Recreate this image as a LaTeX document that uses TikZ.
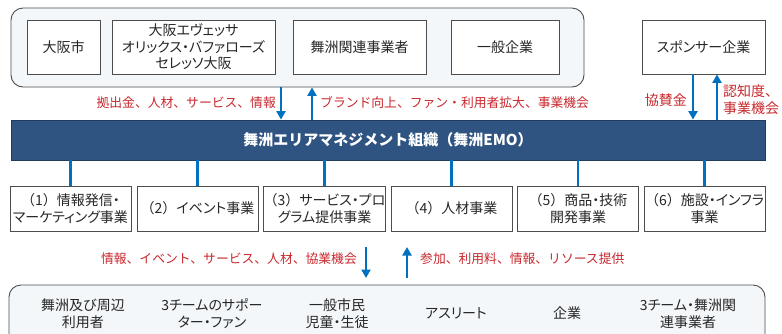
\documentclass[tikz,border=0pt]{standalone}
\usepackage{fontspec}
\setmainfont{Noto Sans CJK JP}[RawFeature=+palt]
\newfontfamily\fwfont{Noto Sans CJK JP}
\usetikzlibrary{arrows.meta}
\definecolor{flowblue}{HTML}{0070C0}
\definecolor{labelred}{HTML}{C8282D}
\definecolor{barblue}{HTML}{2F5482}
\definecolor{panelfill}{HTML}{F4F7FA}
\definecolor{boxline}{HTML}{4D4D4D}
\definecolor{txt}{HTML}{262626}
\newcommand{\biznum}[1]{{\fwfont （#1）}}
\tikzset{
  panel/.style={draw=boxline, line width=0.9pt, fill=panelfill, rounded corners=12pt, inner sep=0pt},
  entity/.style={draw=boxline, line width=0.8pt, fill=white, inner sep=0pt, align=center, text=txt,
    font=\fontsize{14}{16.5}\selectfont},
  bizbox/.style={entity, minimum width=121pt, minimum height=45pt, font=\fontsize{14}{17}\selectfont},
  flow/.style={draw=flowblue, line width=2.8pt, -{Triangle[width=9pt,length=8.5pt]}},
  link/.style={draw=flowblue, line width=2.8pt},
  redlabel/.style={text=labelred, inner sep=0pt, font=\fwfont\fontsize{12.8}{15}\selectfont},
  sponsorlabel/.style={text=labelred, inner sep=0pt, align=left, font=\fwfont\fontsize{14}{17}\selectfont},
  usertext/.style={text=txt, inner sep=0pt, align=center, font=\fontsize{14}{17}\selectfont}
}
\begin{document}
\begin{tikzpicture}[x=1pt,y=-1pt]
\useasboundingbox (0,0) rectangle (782,333);
\clip (0,0) rectangle (782,333);
\fill[white] (0,0) rectangle (782,333);

% top panel
\node[panel, minimum width=573pt, minimum height=79pt] (topc) at (297.5,47.5) {};
\node[entity, minimum width=73pt, minimum height=54pt] (osaka) at (63.5,47) {大阪市};
\node[entity, minimum width=163pt, minimum height=54pt] (teams) at (193.5,47) {大阪エヴェッサ\\オリックス・バファローズ\\セレッソ大阪};
\node[entity, minimum width=133pt, minimum height=54pt] (maishu) at (359.5,47) {舞洲関連事業者};
\node[entity, minimum width=108pt, minimum height=54pt] (ippan) at (505,47) {一般企業};
\node[entity, minimum width=123pt, minimum height=54pt] (sponsor) at (703.5,47) {スポンサー企業};

% bar
\node[draw=barblue!70!black, line width=0.8pt, fill=barblue, minimum width=754pt, minimum height=40pt, inner sep=0pt,
  text=white, font=\fwfont\bfseries\fontsize{15}{18}\selectfont] (bar) at (388,140) {舞洲エリアマネジメント組織（舞洲EMO）};

% arrows top
\coordinate (xa) at (281,0);
\coordinate (xb) at (312,0);
\coordinate (xc) at (693,0);
\coordinate (xd) at (717,0);
\draw[flow] (xa |- topc.south) -- (xa |- bar.north);
\draw[flow] (xb |- bar.north) -- (xb |- topc.south);
\draw[flow] (xc |- sponsor.south) -- (xc |- bar.north);
\draw[flow] (xd |- bar.north) -- (xd |- sponsor.south);
\node[redlabel, anchor=east] (l1) at (276,103) {拠出金、人材、サービス、情報};
\node[redlabel, anchor=west] (l2) at (320,103) {ブランド向上、ファン・利用者拡大、事業機会};
\node[sponsorlabel, anchor=east] (l3) at (687,100) {協賛金};
\node[sponsorlabel, anchor=west] (l4) at (723,100) {認知度、\\事業機会};

% business boxes
\node[bizbox] (b1) at (70.5,208.5) {\biznum{1}情報発信・\\マーケティング事業};
\node[bizbox] (b2) at (197.5,208.5) {\biznum{2}イベント事業};
\node[bizbox] (b3) at (324.5,208.5) {\biznum{3}サービス・プロ\\グラム提供事業};
\node[bizbox] (b4) at (451.5,208.5) {\biznum{4}人材事業};
\node[bizbox] (b5) at (578,208.5) {\biznum{5}商品・技術\\開発事業};
\node[bizbox] (b6) at (704.5,208.5) {\biznum{6}施設・インフラ\\事業};
\foreach \b in {b1,b2,b3,b4,b5,b6}{
  \draw[link] (\b.north) -- (\b.north |- bar.south);
}

% bottom arrows
\coordinate (d1) at (366,247);
\coordinate (d2) at (366,278);
\coordinate (u1) at (407,278);
\coordinate (u2) at (407,247);
\draw[flow] (d1) -- (d2);
\draw[flow] (u1) -- (u2);
\node[redlabel, anchor=east] (l5) at (357,259) {情報、イベント、サービス、人材、協業機会};
\node[redlabel, anchor=west] (l6) at (420,259) {参加、利用料、情報、リソース提供};

% bottom panel
\node[panel, minimum width=756pt, minimum height=90pt] (botc) at (387,330) {};
\node[usertext] (u_a) at (83,313.5) {舞洲及び周辺\\利用者};
\node[usertext] (u_b) at (212,313.5) {3チームのサポー\\ター・ファン};
\node[usertext] (u_c) at (337,313.5) {一般市民\\児童・生徒};
\node[usertext] (u_d) at (456,313) {アスリート};
\node[usertext] (u_e) at (567,313) {企業};
\node[usertext] (u_f) at (688,313.5) {3チーム・舞洲関\\連事業者};
\end{tikzpicture}
\end{document}
